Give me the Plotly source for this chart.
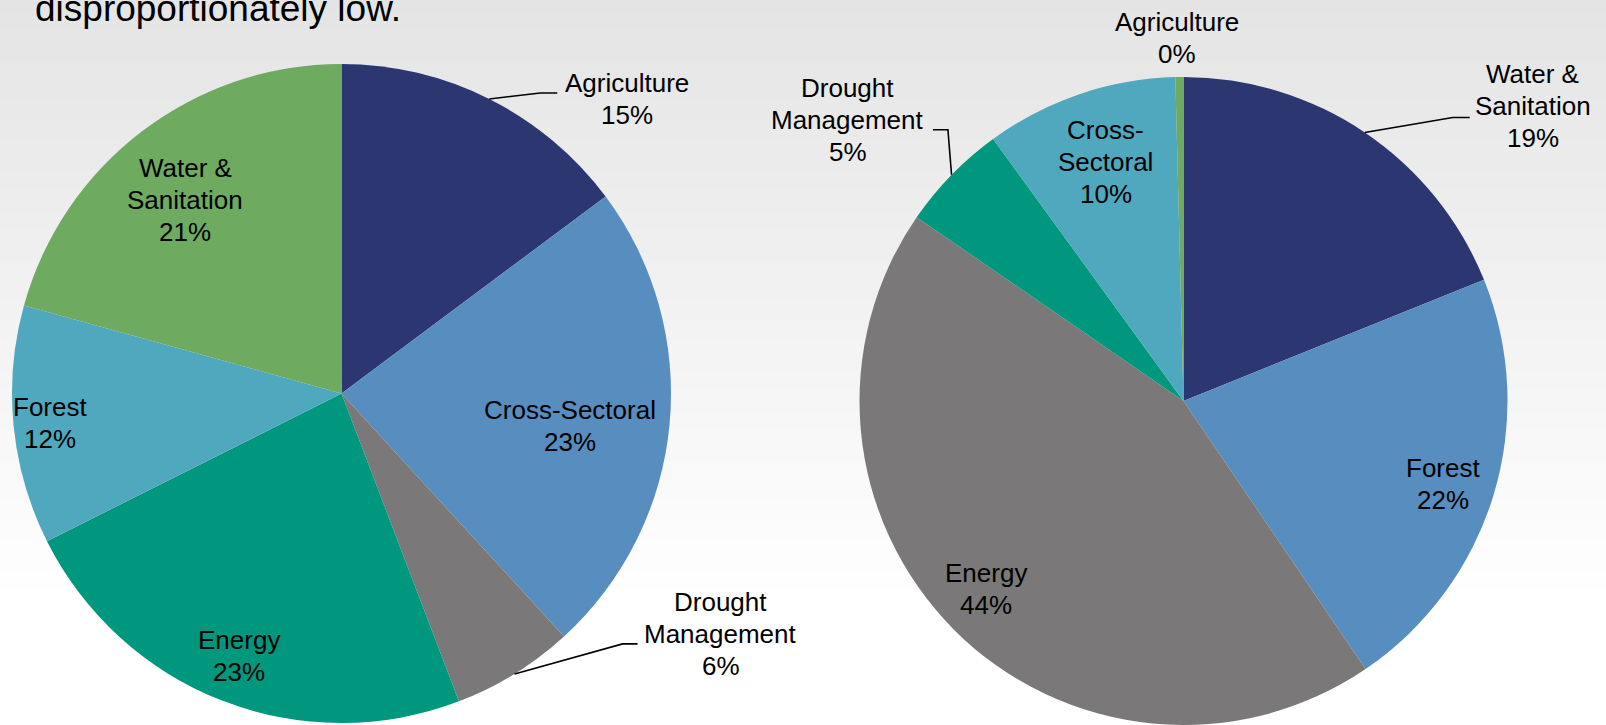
import math
import plotly.graph_objects as go

W, H = 1606, 725

# ---------------- data ----------------
left_labels = ["Agriculture", "Cross-Sectoral", "Drought Management", "Energy", "Forest", "Water & Sanitation"]
left_values = [14.8, 23.4, 6.0, 23.4, 11.7, 20.7]

right_labels = ["Water & Sanitation", "Forest", "Energy", "Drought Management", "Cross-Sectoral", "Agriculture"]
right_values = [18.9, 21.6, 44.1, 5.4, 9.6, 0.4]

title_text = "disproportionately low."

# ---------------- style ----------------
slice_colors = ["#2C3771", "#578DBF", "#7A7878", "#00977F", "#4FA8BE", "#6EAA60"]
FONT = "Liberation Sans, Arial, sans-serif"
FS = 26
LINE_H = 32

left_geom = dict(cx=341.5, cy=393.5, r=329.5)
right_geom = dict(cx=1183.5, cy=401.0, r=324.0)

left_style = {
    "Agriculture": dict(kind="out", lines=["Agriculture"], text_off=(138, 0.5), elbow=(51, -6), hend=(68, -6)),
    "Cross-Sectoral": dict(kind="in", lines=["Cross-Sectoral"], dtheta=2.7, rf=0.70),
    "Drought Management": dict(kind="out", lines=["Drought", "Management"], text_off=(206, -39.5),
                               elbow=(108, -30), hend=(123, -30)),
    "Energy": dict(kind="in", lines=["Energy"], dtheta=0.1, rf=0.855),
    "Forest": dict(kind="in", lines=["Forest"], dtheta=-0.2, rf=0.89),
    "Water & Sanitation": dict(kind="in", lines=["Water &", "Sanitation"], dtheta=-1.7, rf=0.755),
}
right_style = {
    "Water & Sanitation": dict(kind="out", lines=["Water &", "Sanitation"], text_off=(168, -26),
                               elbow=(88, -15), hend=(105, -15)),
    "Forest": dict(kind="in", lines=["Forest"], dtheta=0.8, rf=0.84),
    "Energy": dict(kind="in", lines=["Energy"], dtheta=1.2, rf=0.84),
    "Drought Management": dict(kind="out", lines=["Drought", "Management"], text_off=(-103.6, -54.7),
                               elbow=(-3.6, -45), hend=(-18.6, -45)),
    "Cross-Sectoral": dict(kind="in", lines=["Cross-", "Sectoral"], dtheta=0.7, rf=0.775),
    "Agriculture": dict(kind="out", lines=["Agriculture"], text_off=(-2.5, -39.5)),
}


def px_x(x):
    return x / W


def px_y(y):
    return 1 - y / H


def domain(g):
    return dict(x=[px_x(g["cx"] - g["r"]), px_x(g["cx"] + g["r"])],
                y=[max(0.0, px_y(g["cy"] + g["r"])), px_y(g["cy"] - g["r"])])


fig = go.Figure()
shapes = []
annotations = []

# gradient background (light grey at top fading to white)
band = 10
for i in range(0, H, band):
    t = min(1.0, (i + band / 2) / 600.0)
    v = round(228 + (255 - 228) * t)
    shapes.append(dict(type="rect", xref="paper", yref="paper", x0=0, x1=1,
                       y0=px_y(min(H, i + band + 1)), y1=px_y(i),
                       fillcolor=f"rgb({v},{v},{v})", line=dict(width=0), layer="below"))


def add_pie(labels, values, geom, style):
    fig.add_trace(go.Pie(
        labels=labels, values=values, sort=False, direction="clockwise", rotation=0,
        marker=dict(colors=slice_colors, line=dict(width=0)),
        textinfo="none", hoverinfo="label+percent", showlegend=False,
        domain=domain(geom),
    ))
    total = sum(values)
    cum = 0.0
    for lab, v in zip(labels, values):
        mid = (cum + v / 2) / total * 360.0
        cum += v
        st = style[lab]
        pct = f"{round(v / total * 100)}%"
        lines = st["lines"] + [pct]
        if st["kind"] == "in":
            th = math.radians(mid + st["dtheta"])
            rr = geom["r"] * st["rf"]
            tx = geom["cx"] + rr * math.sin(th)
            ty = geom["cy"] - rr * math.cos(th)
        else:
            th = math.radians(mid)
            ex = geom["cx"] + geom["r"] * math.sin(th)
            ey = geom["cy"] - geom["r"] * math.cos(th)
            tx = ex + st["text_off"][0]
            ty = ey + st["text_off"][1]
            if "elbow" in st:
                bx, by = ex + st["elbow"][0], ey + st["elbow"][1]
                hx, hy = ex + st["hend"][0], ey + st["hend"][1]
                shapes.append(dict(type="path", xref="paper", yref="paper",
                                   path=f"M {px_x(ex)} {px_y(ey)} L {px_x(bx)} {px_y(by)} L {px_x(hx)} {px_y(hy)}",
                                   line=dict(color="black", width=1.6), layer="above"))
        n = len(lines)
        for k, ln in enumerate(lines):
            ly = ty + (k - (n - 1) / 2) * LINE_H
            annotations.append(dict(x=px_x(tx), y=px_y(ly), xref="paper", yref="paper",
                                    text=ln, showarrow=False, xanchor="center", yanchor="middle",
                                    font=dict(family=FONT, size=FS, color="black")))


add_pie(left_labels, left_values, left_geom, left_style)
add_pie(right_labels, right_values, right_geom, right_style)

annotations.append(dict(x=px_x(33), y=px_y(9.0), xref="paper", yref="paper", text=title_text,
                        showarrow=False, xanchor="left", yanchor="middle",
                        font=dict(family=FONT, size=37, color="black")))

fig.update_layout(
    width=W, height=H, autosize=False,
    margin=dict(l=0, r=0, t=0, b=0, pad=0),
    paper_bgcolor="white", plot_bgcolor="white",
    shapes=shapes, annotations=annotations,
)

fig.write_html("out.html", config={"displayModeBar": False},
               post_script="document.body.style.margin='0';document.body.style.overflow='hidden';")
